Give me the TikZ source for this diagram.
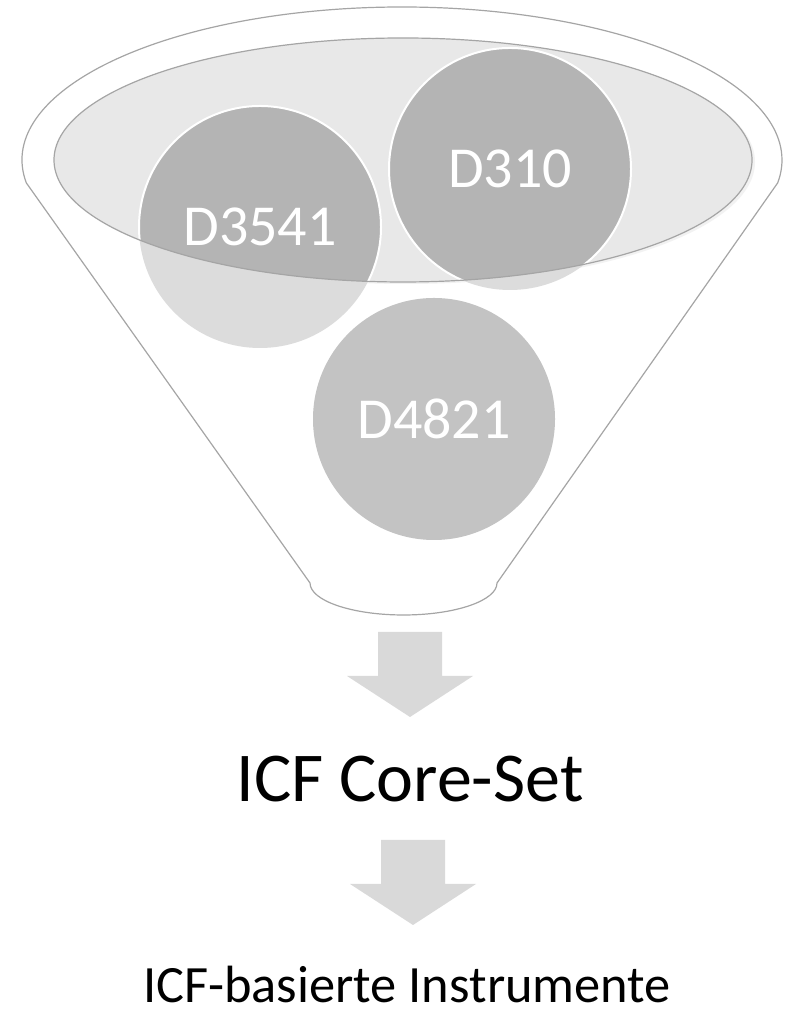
\documentclass[tikz,border=0pt]{standalone}
\usepackage{fontspec}
\setmainfont{Carlito}
\usepackage{tikz}
\usetikzlibrary{positioning}
\definecolor{rimgray}{RGB}{165,165,165}
\definecolor{topfill}{RGB}{232,232,232}
\definecolor{topshade}{RGB}{242,242,242}
\definecolor{discpale}{RGB}{220,220,220}
\definecolor{discdark}{RGB}{180,180,180}
\definecolor{discmid}{RGB}{195,195,195}
\definecolor{arrowgray}{RGB}{217,217,217}
\newcommand*{\downblock}[2]{% shaft centre x, shaft top y
  \fill[arrowgray] (#1-32,#2) -- (#1+32,#2) -- (#1+32,#2-44) -- (#1+63,#2-44)
    -- (#1,#2-85) -- (#1-63,#2-44) -- (#1-32,#2-44) -- cycle;}

\begin{document}
\begin{tikzpicture}[x=0.5pt,y=0.5pt,
      funnel/.style={draw=rimgray,fill=white,line width=0.6pt},
      disc/.style={circle,minimum size=121pt,inner sep=0pt},
      lbl/.style={text=white,inner sep=0pt,font=\fontsize{29pt}{32pt}\selectfont},
      caption/.style={anchor=base,inner sep=0pt,text=black}]
      \useasboundingbox (0,0) rectangle (787,1015);
      \coordinate (rim) at (402,855);
      \coordinate (top) at (403,855);
      % funnel body
      \draw[funnel] (rim) ++(188.6:190pt and 76.5pt) coordinate (rimL)
        arc[start angle=188.6,end angle=-8.6,x radius=190pt,y radius=76.5pt] coordinate (rimR)
        -- (497,432) arc[start angle=0,end angle=-180,x radius=46.75pt,y radius=16pt] -- cycle;
      \fill[topshade] ([shift={(3,-2)}]top) ellipse [x radius=174.5pt,y radius=61pt];
      \fill[topfill] (top) ellipse [x radius=174.5pt,y radius=61pt];
      % discs
      \node[disc,fill=discpale] (d3541) at (260,788) {};
      \node[disc,fill=discpale] (d310) at (510,846) {};
      \begin{scope}
        \clip (top) ellipse [x radius=174.5pt,y radius=61pt];
        \node[disc,fill=discdark,draw=white,line width=1pt] at (d3541) {};
        \node[disc,fill=discdark,draw=white,line width=1pt] at (d310) {};
      \end{scope}
      \draw[rimgray,line width=0.6pt] (top) ellipse [x radius=174.5pt,y radius=61pt];
      \node[disc,fill=discmid] (d4821) at (434,596) {};
      \node[lbl] at (d3541) {D3541};
      \node[lbl] at (d310) {D310};
      \node[lbl] at (d4821) {D4821};
      % arrows and captions
      \downblock{410}{383}
      \node[caption,font=\fontsize{35pt}{40pt}\selectfont] (core) at (410,213) {ICF Core-Set};
      \downblock{413}{175}
      \node[caption,font=\fontsize{26.2pt}{30pt}\selectfont] (instr) at (407,12) {ICF-basierte Instrumente};
    \end{tikzpicture}
\end{document}
